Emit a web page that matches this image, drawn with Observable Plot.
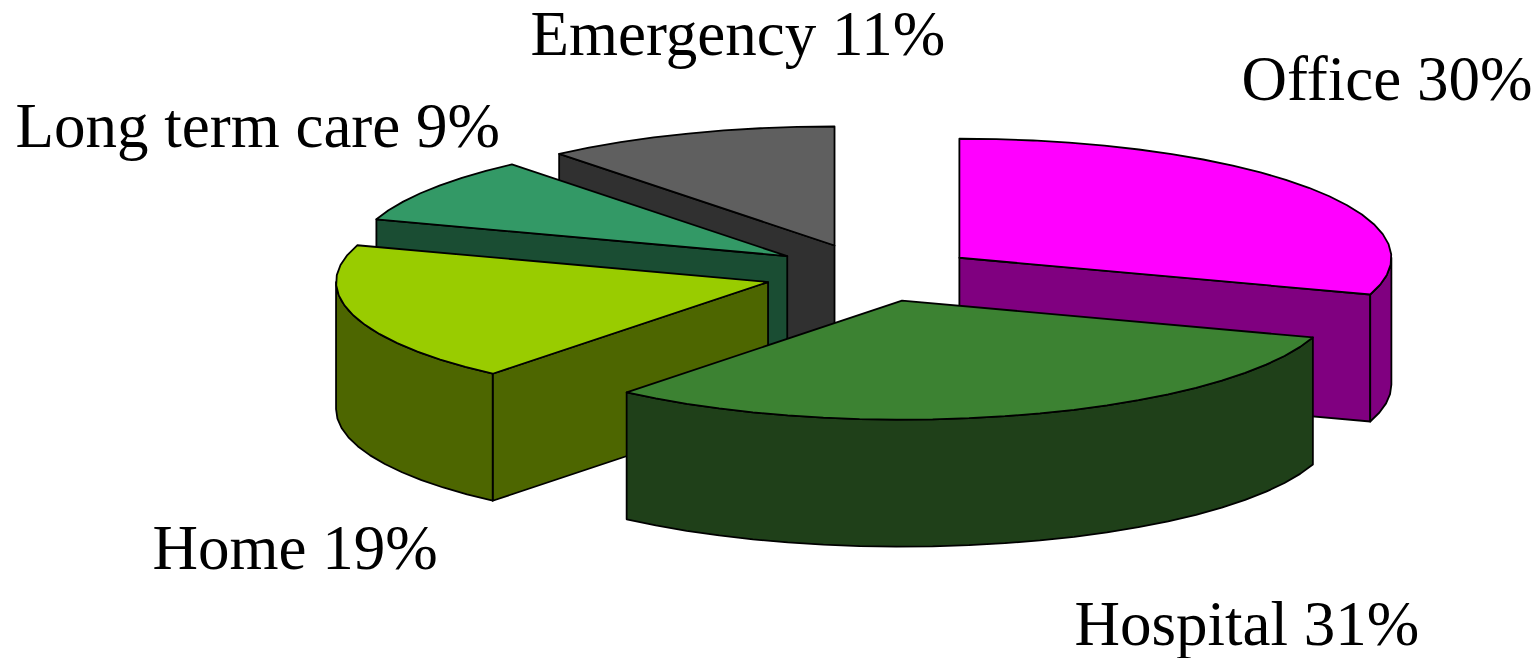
<!DOCTYPE html>
<html>
<head>
<meta charset="utf-8">
<style>
  html, body { margin: 0; padding: 0; background: #fff; }
  svg { display: block; }
</style>
<script src="https://cdn.jsdelivr.net/npm/d3@7"></script>
<script src="https://cdn.jsdelivr.net/npm/@observablehq/plot@0.6"></script>
</head>
<body>
<div id="chart"></div>
<script>
// Share of care by setting, clockwise from twelve o'clock.
const settings = ["Office", "Hospital", "Home", "Long term care", "Emergency"];
const shares = [30, 31, 19, 9, 11];

const topColours = ["#ff00ff", "#3c8232", "#99cc00", "#339966", "#5f5f5f"];
const wallColours = ["#800080", "#1f4019", "#4d6600", "#1a4d33", "#303030"];

// How far each slice is pulled out of the pie, as a fraction of the radius.
const explodeX = [0.24, 0.22, 0.259, 0.247, 0.28];
const explodeY = [0.254, 0.22, 0.197, 0.29, 0.268];

// Label anchors: left edge and baseline.
const labelX = [1241, 1074, 152, 15, 530];
const labelY = [99, 644, 568, 146, 54];

// Pie projection: ellipse radii, extrusion depth and centre.
const rx = 432, ry = 119, depth = 127, cx = 875, cy = 275;
const arcStep = 5;

const rad = (deg) => (deg * Math.PI) / 180;
const rim = (o, deg, drop = 0) => ({
  x: o.x + rx * Math.sin(rad(deg)),
  y: o.y - ry * Math.cos(rad(deg)) + drop
});
const arc = (o, from, to, drop = 0) => {
  const n = Math.max(1, Math.ceil((to - from) / arcStep));
  return d3.range(n + 1).map((i) => rim(o, from + ((to - from) * i) / n, drop));
};

// Turn the shares into polygons, one group per wall or top face.
const total = d3.sum(shares);
const slices = [];
let running = 0;
shares.forEach((share, i) => {
  const start = (running / total) * 360;
  running += share;
  const end = (running / total) * 360;
  const mid = (start + end) / 2;
  const apex = {
    x: cx + explodeX[i] * rx * Math.sin(rad(mid)),
    y: cy - explodeY[i] * ry * Math.cos(rad(mid))
  };
  slices.push({i, start, end, apex});
});

const faces = [];
const addFace = (id, fill, points) =>
  points.forEach((p) => faces.push({id, fill, x: p.x, y: p.y}));

// Back to front: the slices behind are overlapped by the ones nearer the viewer.
const paintOrder = [4, 3, 2, 0, 1];
paintOrder.forEach((i) => {
  const {start, end, apex} = slices[i];
  const wall = wallColours[i];
  const below = {x: apex.x, y: apex.y + depth};
  const radialWall = (id, deg) =>
    addFace(id, wall, [apex, rim(apex, deg), rim(apex, deg, depth), below]);
  if (Math.sin(rad(start)) < -1e-6) radialWall(`${i}-start`, start);
  if (Math.sin(rad(end)) > 1e-6) radialWall(`${i}-end`, end);
  const from = Math.max(start, 90);
  const to = Math.min(end, 270);
  if (to > from) {
    addFace(`${i}-outer`, wall, [
      ...arc(apex, from, to),
      ...arc(apex, from, to, depth).reverse()
    ]);
  }
  addFace(`${i}-top`, topColours[i], [apex, ...arc(apex, start, end)]);
});

const labels = settings.map((name, i) => ({
  text: `${name} ${shares[i]}%`,
  x: labelX[i],
  y: labelY[i]
}));

const chart = Plot.plot({
  width: 1536,
  height: 658,
  margin: 0,
  style: {background: "#fff"},
  x: {domain: [0, 1536], range: [0, 1536], axis: null},
  y: {domain: [0, 658], range: [0, 658], axis: null},
  color: {type: "identity"},
  marks: [
    Plot.line(faces, {
      x: "x",
      y: "y",
      z: "id",
      fill: "fill",
      stroke: "#000",
      strokeWidth: 1.8,
      strokeLinejoin: "round",
      curve: "linear-closed"
    }),
    Plot.text(labels, {
      x: "x",
      y: "y",
      text: "text",
      textAnchor: "start",
      lineAnchor: "bottom",
      fontFamily: "Liberation Serif",
      fontSize: 63,
      fill: "#000"
    })
  ]
});
document.getElementById("chart").appendChild(chart);
</script>
</body>
</html>
